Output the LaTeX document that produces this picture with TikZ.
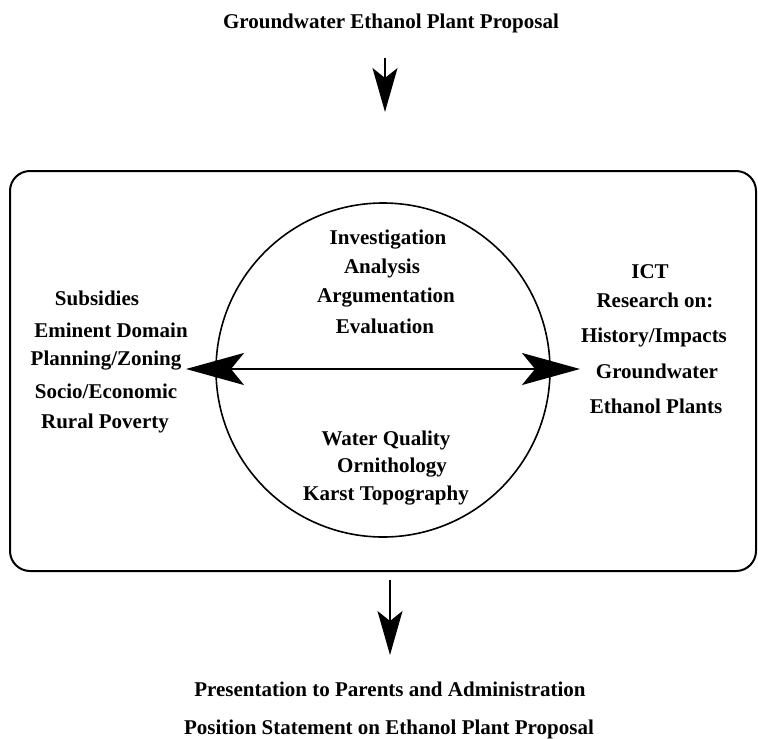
\documentclass[tikz,border=0pt]{standalone}
\usepackage{fontspec}
\setmainfont{Liberation Serif}
\usetikzlibrary{arrows.meta}
\begin{document}
\begin{tikzpicture}[x=1pt,y=-1pt,
  lbl/.style={anchor=base, inner sep=0pt, font=\fontsize{21}{25}\selectfont\bfseries},
  frame/.style={draw, line width=2pt, rounded corners=20pt, minimum width=746pt, minimum height=400pt, inner sep=0pt},
  ring/.style={draw, line width=1.6pt, circle, minimum size=334pt, inner sep=0pt},
  flow/.style={line width=1.6pt, -{Stealth[length=44pt,width=25pt,inset=10pt]}},
  both/.style={line width=2pt, {Stealth[length=58pt,width=32pt,inset=13pt]}-{Stealth[length=58pt,width=32pt,inset=13pt]}}]
\useasboundingbox (0,0) rectangle (758,739);

% outer panel and central circle
\node[frame] (panel) at (383,371) {};
\node[ring] (hub) at (383,370) {};

% heading and incoming arrow
\node[lbl] (goal) at (391,28) {Groundwater Ethanol Plant Proposal};
\coordinate (inTail) at (385,58);
\coordinate (inHead) at (385,112);
\draw[flow] (inTail) -- (inHead);

% left column
\node[lbl] (l1) at (97,305) {Subsidies};
\node[lbl] (l2) at (111,337) {Eminent Domain};
\node[lbl] (l3) at (106,365) {Planning/Zoning};
\node[lbl] (l4) at (106,398) {Socio/Economic};
\node[lbl] (l5) at (105,428) {Rural Poverty};

% right column
\node[lbl] (r1) at (650,278) {ICT};
\node[lbl] (r2) at (655,307) {Research on:};
\node[lbl] (r3) at (654,342) {History/Impacts};
\node[lbl] (r4) at (657,378) {Groundwater};
\node[lbl] (r5) at (656,413) {Ethanol Plants};

% inside the circle, upper half
\node[lbl] (c1) at (388,244) {Investigation};
\node[lbl] (c2) at (382,273) {Analysis};
\node[lbl] (c3) at (386,302) {Argumentation};
\node[lbl] (c4) at (385,333) {Evaluation};

% inside the circle, lower half
\node[lbl] (c5) at (386,445) {Water Quality};
\node[lbl] (c6) at (392,472) {Ornithology};
\node[lbl] (c7) at (386,500) {Karst Topography};

% two-way arrow across the circle
\coordinate (west) at (186,369);
\coordinate (east) at (580,369);
\draw[both] (west) -- (east);

% outgoing arrow and outcomes
\coordinate (outTail) at (390,580);
\coordinate (outHead) at (390,655);
\draw[flow] (outTail) -- (outHead);
\node[lbl] (o1) at (390,696) {Presentation to Parents and Administration};
\node[lbl] (o2) at (389,734) {Position Statement on Ethanol Plant Proposal};
\end{tikzpicture}
\end{document}
